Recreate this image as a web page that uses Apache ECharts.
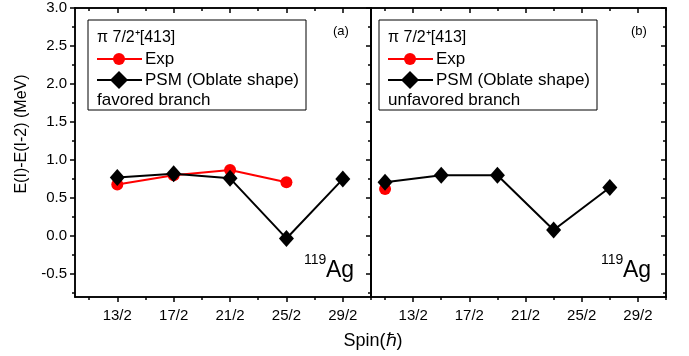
<!DOCTYPE html>
<html>
<head>
<meta charset="utf-8">
<script src="https://cdn.jsdelivr.net/npm/echarts@6/dist/echarts.min.js"></script>
<style>
html, body { margin: 0; padding: 0; background: #fff; }
#chart { width: 689px; height: 356px; }
</style>
</head>
<body>
<div id="chart"></div>
<script>
// spin I (value 6.5 means 13/2)
var spinFavored = [6.5, 8.5, 10.5, 12.5, 14.5];
var spinUnfavored = [5.5, 7.5, 9.5, 11.5, 13.5];
// E(I)-E(I-2) in MeV
var expFavored = [0.68, 0.80, 0.87, 0.71];
var psmFavored = [0.77, 0.82, 0.76, -0.03, 0.75];
var expUnfavored = [0.62];
var psmUnfavored = [0.71, 0.80, 0.80, 0.08, 0.64];
// ticks
var spinTicks = [6.5, 8.5, 10.5, 12.5, 14.5];
var spinLabels = ['13/2', '17/2', '21/2', '25/2', '29/2'];
var spinMinor = [5.5, 7.5, 9.5, 11.5, 13.5, 15.5];
var energyTicks = [-0.5, 0, 0.5, 1, 1.5, 2, 2.5, 3];
var energyMinor = [-0.75, -0.25, 0.25, 0.75, 1.25, 1.75, 2.25, 2.75];

var FONT = '"Liberation Sans", Arial, Helvetica, sans-serif';
var chart = echarts.init(document.getElementById('chart'), null, { renderer: 'canvas' });

var grids = [
    { left: 75, top: 8, width: 296, height: 289 },
    { left: 371, top: 8, width: 295, height: 289 }
];

var lineStyle = { color: '#000', width: 1.5 };

function xAxisPair(g, pos, inside, showLabel) {
    var base = {
        type: 'value', gridIndex: g, position: pos, min: 5, max: 15.5,
        axisLine: { show: true, onZero: false, lineStyle: lineStyle },
        splitLine: { show: false }
    };
    var major = Object.assign({}, base, {
        axisTick: { show: true, inside: inside, length: 5, customValues: spinTicks, lineStyle: lineStyle },
        axisLabel: {
            show: showLabel, customValues: spinTicks, margin: 11,
            color: '#000', fontSize: 15, fontFamily: FONT,
            formatter: function (v) { return spinLabels[spinTicks.indexOf(v)]; }
        }
    });
    var minor = Object.assign({}, base, {
        axisTick: { show: true, inside: inside, length: 3, customValues: spinMinor, lineStyle: lineStyle },
        axisLabel: { show: false }
    });
    return [major, minor];
}

function yAxisPair(g, pos, inside, showLabel) {
    var base = {
        type: 'value', gridIndex: g, position: pos, min: -0.8, max: 3.0,
        axisLine: { show: true, onZero: false, lineStyle: lineStyle },
        splitLine: { show: false }
    };
    var major = Object.assign({}, base, {
        axisTick: { show: true, inside: inside, length: 5, customValues: energyTicks, lineStyle: lineStyle },
        axisLabel: {
            show: showLabel, customValues: energyTicks, margin: 8,
            color: '#000', fontSize: 15, fontFamily: FONT,
            formatter: function (v) { return v.toFixed(1); }
        }
    });
    var minor = Object.assign({}, base, {
        axisTick: { show: true, inside: inside, length: 3, customValues: energyMinor, lineStyle: lineStyle },
        axisLabel: { show: false }
    });
    return [major, minor];
}

var xAxes = [].concat(
    xAxisPair(0, 'bottom', false, true), xAxisPair(0, 'top', true, false),
    xAxisPair(1, 'bottom', false, true), xAxisPair(1, 'top', true, false)
);
var yAxes = [].concat(
    yAxisPair(0, 'left', false, true), yAxisPair(0, 'right', true, false),
    yAxisPair(1, 'left', false, false), yAxisPair(1, 'right', true, false)
);

function pairs(xs, ys) {
    return ys.map(function (y, i) { return [xs[i], y]; });
}

var expStyle = {
    type: 'line', name: 'Exp', symbol: 'circle', symbolSize: 12,
    itemStyle: { color: '#ff0000' }, lineStyle: { color: '#ff0000', width: 2 }, z: 2
};
var psmStyle = {
    type: 'line', name: 'PSM (Oblate shape)', symbol: 'diamond', symbolSize: [15, 17],
    itemStyle: { color: '#000' }, lineStyle: { color: '#000', width: 2 }, z: 3
};

var series = [
    Object.assign({}, expStyle, { xAxisIndex: 0, yAxisIndex: 0, data: pairs(spinFavored, expFavored) }),
    Object.assign({}, psmStyle, { xAxisIndex: 0, yAxisIndex: 0, data: pairs(spinFavored, psmFavored) }),
    Object.assign({}, expStyle, { xAxisIndex: 4, yAxisIndex: 4, data: pairs(spinUnfavored, expUnfavored) }),
    Object.assign({}, psmStyle, { xAxisIndex: 4, yAxisIndex: 4, data: pairs(spinUnfavored, psmUnfavored) })
];

function txt(x, y, s, size, align) {
    return {
        type: 'text', x: x, y: y, z: 10,
        style: { text: s, fill: '#000', font: size + 'px ' + FONT, align: align || 'left', verticalAlign: 'middle' }
    };
}

// hand drawn legend box (title, two entries, branch name)
function legendBox(x, branch) {
    var lx = x + 9, mid = lx + 22, rx = lx + 45;
    return [
        { type: 'rect', shape: { x: x, y: 20, width: 218, height: 90 }, style: { fill: '#fff', stroke: '#000', lineWidth: 1 }, z: 1 },
        txt(lx, 38, 'π 7/2⁺[413]', 16),
        { type: 'line', shape: { x1: lx, y1: 59, x2: rx, y2: 59 }, style: { stroke: '#ff0000', lineWidth: 2 }, z: 10 },
        { type: 'circle', shape: { cx: mid, cy: 59, r: 6 }, style: { fill: '#ff0000' }, z: 11 },
        txt(rx + 3, 59, 'Exp', 17),
        { type: 'line', shape: { x1: lx, y1: 80, x2: rx, y2: 80 }, style: { stroke: '#000', lineWidth: 2 }, z: 10 },
        { type: 'polygon', shape: { points: [[mid - 9, 80], [mid, 71], [mid + 9, 80], [mid, 89]] }, style: { fill: '#000' }, z: 11 },
        txt(rx + 3, 80, 'PSM (Oblate shape)', 17),
        txt(lx, 100, branch, 17)
    ];
}

var graphics = [].concat(
    legendBox(88, 'favored branch'),
    legendBox(379, 'unfavored branch'),
    [
        txt(333, 31, '(a)', 13),
        txt(631, 31, '(b)', 13),
        txt(304, 260, '119', 14),
        txt(326, 271, 'Ag', 23),
        txt(601, 260, '119', 14),
        txt(623, 271, 'Ag', 23),
        txt(373, 341, 'Spin(ℏ)', 18, 'center'),
        {
            type: 'text', x: 22, y: 134, rotation: Math.PI / 2, z: 10,
            style: { text: 'E(I)-E(I-2) (MeV)', fill: '#000', font: '16px ' + FONT, align: 'center', verticalAlign: 'middle' }
        }
    ]
);

var option = {
    backgroundColor: '#ffffff',
    animation: false,
    grid: grids,
    xAxis: xAxes,
    yAxis: yAxes,
    graphic: graphics,
    series: series
};

chart.setOption(option);
</script>
</body>
</html>
